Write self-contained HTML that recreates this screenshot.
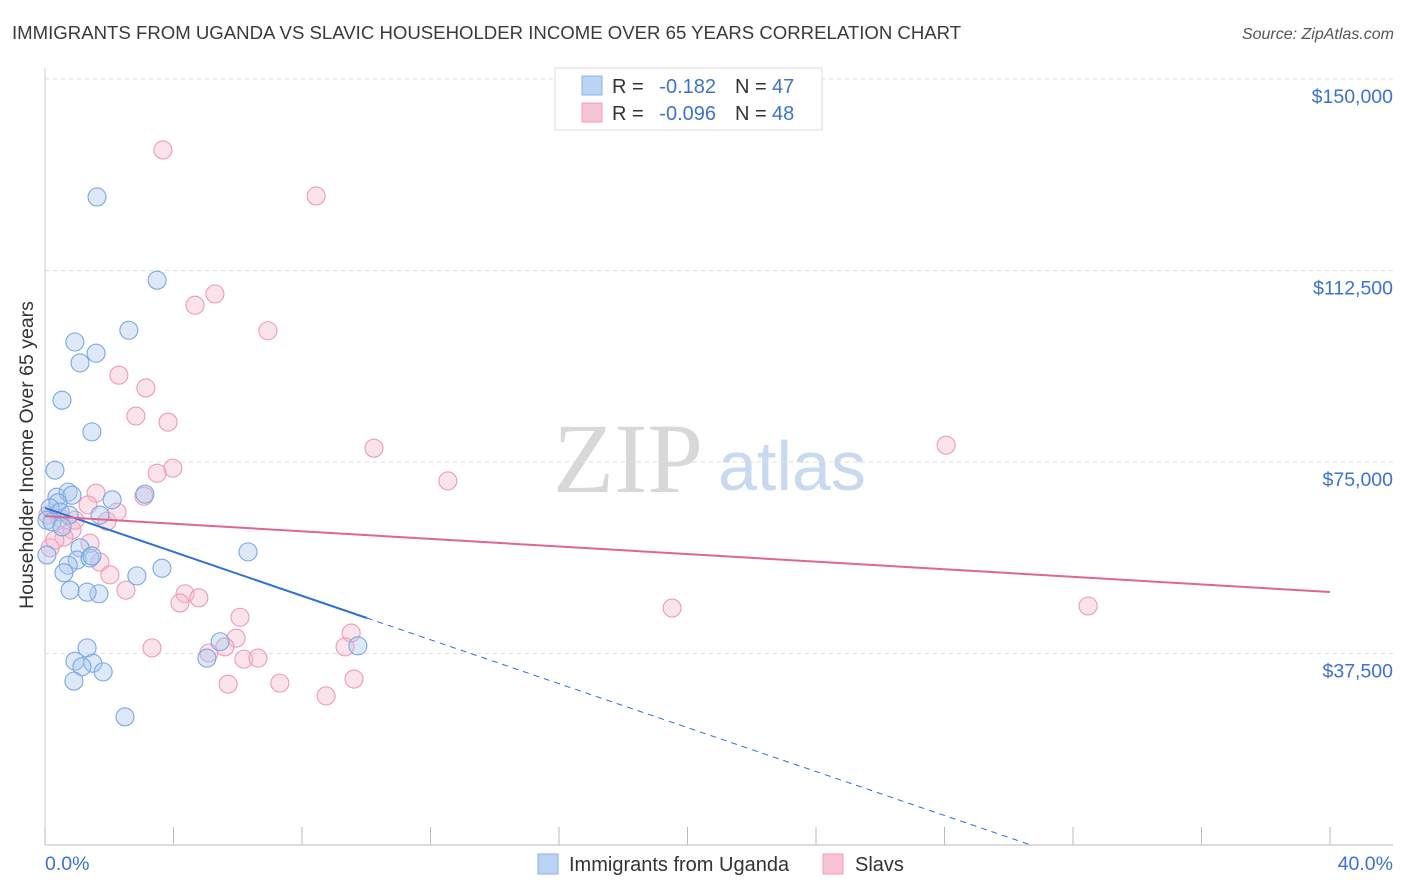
<!DOCTYPE html>
<html><head><meta charset="utf-8"><style>
body{margin:0;background:#fff;font-family:"Liberation Sans",sans-serif;}
svg{display:block}
</style></head><body>
<svg id="chart" width="1406" height="892" xmlns="http://www.w3.org/2000/svg">
<text x="12" y="39" font-size="18.6" fill="#3a3a3a">IMMIGRANTS FROM UGANDA VS SLAVIC HOUSEHOLDER INCOME OVER 65 YEARS CORRELATION CHART</text>
<text x="1394" y="39" font-size="16" fill="#555" font-style="italic" text-anchor="end">Source: ZipAtlas.com</text>
<g>
<text x="553" y="492" font-family="Liberation Serif,serif" font-size="100" fill="#d8d8d8">ZIP</text>
<text x="718" y="490" font-size="70" fill="#c9daf0">atlas</text>
</g>
<g id="grid"></g>
<g id="axes"></g>
<g id="marks"></g>
<text x="33" y="455" font-size="19.5" fill="#333" text-anchor="middle" transform="rotate(-90 33 455)">Householder Income Over 65 years</text>
<text x="45" y="870" font-size="19.5" fill="#3d72d0">0.0%</text>
<text x="1393" y="870" font-size="19.5" fill="#3d72d0" text-anchor="end">40.0%</text>
<g>
<rect x="555" y="68" width="267" height="62" fill="#fff" stroke="#ddd"/>
<g>
<rect x="582" y="76" width="20" height="19" fill="#bcd4f4" stroke="#8ab2e6"/>
<text x="612" y="93" font-size="20" fill="#333">R = </text><text x="716" y="93" font-size="20" fill="#3d72d0" text-anchor="end">-0.182</text>
<text x="735" y="93" font-size="20" fill="#333">N = </text><text x="772" y="93" font-size="20" fill="#3d72d0">47</text></g>
<g>
<rect x="582" y="103" width="20" height="19" fill="#f9c5d5" stroke="#eea0ba"/>
<text x="612" y="120" font-size="20" fill="#333">R = </text><text x="716" y="120" font-size="20" fill="#3d72d0" text-anchor="end">-0.096</text>
<text x="735" y="120" font-size="20" fill="#333">N = </text><text x="772" y="120" font-size="20" fill="#3d72d0">48</text></g>
</g>
<g>
<g><rect x="538" y="854" width="20" height="20" fill="#bcd4f4" stroke="#8ab2e6"/>
<text x="569" y="871" font-size="20" fill="#333">Immigrants from Uganda</text></g>
<g><rect x="823" y="854" width="20" height="20" fill="#f9c5d5" stroke="#eea0ba"/>
<text x="855" y="871" font-size="20" fill="#333">Slavs</text></g>
</g>
</svg>
<script>
const yTicks=[37500,75000,112500,150000];
const yTickLabels=["$37,500","$75,000","$112,500","$150,000"];
const xTicks=[0,4,8,12,16,20,24,28,32,36,40];
const ugandaX=[1.62,3.49,2.61,0.93,1.59,1.09,0.53,1.46,0.31,0.37,0.72,0.84,2.09,3.11,0.40,0.16,0.47,0.75,0.06,0.22,1.71,0.53,6.32,1.09,0.06,1.00,1.40,1.46,0.72,0.59,2.86,3.64,0.78,1.68,1.31,5.45,1.31,9.74,0.93,1.49,1.15,1.81,5.04,0.90,2.49];
const ugandaY=[126900,110600,100800,98500,96300,94400,87100,80900,73400,68100,69100,68500,67600,68700,67000,66000,65200,64600,63600,63300,64600,62300,57400,58200,56800,55800,56200,56600,54800,53300,52700,54200,49900,49200,49500,39800,38600,39000,36000,35600,34900,33900,36600,32100,25100];
const slavX=[3.67,8.44,5.29,4.67,6.94,2.30,3.14,2.83,3.83,10.24,28.05,3.98,3.49,12.54,3.08,1.59,1.93,2.24,0.47,0.84,0.59,1.40,1.71,0.16,2.02,2.52,4.36,4.79,4.20,19.52,32.47,6.07,5.95,9.53,3.33,9.34,5.60,5.10,6.19,6.63,5.70,7.31,9.62,8.75,0.93,0.09,1.34,0.31];
const slavY=[136100,127100,107900,105700,100700,92000,89500,84000,82800,77700,78300,73800,72800,71300,68300,68900,63400,65200,64000,61700,60300,59100,55400,58200,52900,49900,49200,48400,47400,46400,46800,44600,40500,41500,38600,38800,38800,37600,36400,36600,31500,31700,32500,29200,63600,64600,66600,59700];
const ugandaTrend=[66000,44450];
const ugandaTrendX=[0,10.02];
const slavTrend=[64400,49540];
const NS="http://www.w3.org/2000/svg";
const X0=45,X1=1330,Y0=845,PPY=191.5/37500;
function xs(v){return X0+(v/40)*(X1-X0);}
function ys(v){return Y0-v*PPY;}
function mk(tag,attrs,parent){const e=document.createElementNS(NS,tag);for(const k in attrs)e.setAttribute(k,attrs[k]);parent.appendChild(e);return e;}
const grid=document.getElementById('grid'),axes=document.getElementById('axes'),marks=document.getElementById('marks');
yTicks.forEach((t,i)=>{
 const l=mk('line',{x1:X0,x2:1393,y1:ys(t),y2:ys(t),stroke:'#ddd','stroke-dasharray':'4,4'},grid);
 
 
 const tx=mk('text',{x:1393,y:ys(t)+24,'font-size':19.5,fill:'#3d72d0','text-anchor':'end'},axes);
 tx.textContent=yTickLabels[i];
 
 
});
const ax=mk('line',{x1:X0,x2:1393,y1:Y0,y2:Y0,stroke:'#bbb'},axes);


const ay=mk('line',{x1:X0,x2:X0,y1:68,y2:Y0,stroke:'#ccc'},axes);


xTicks.forEach(t=>{
 const l=mk('line',{x1:xs(t),x2:xs(t),y1:Y0-18,y2:Y0,stroke:'#bbb'},axes);
 
 
});
function pts(X,Y,fill,stroke,name){
 X.forEach((v,i)=>{
  const c=mk('circle',{cx:xs(v),cy:ys(Y[i]),r:9,fill:fill,'fill-opacity':0.4,stroke:stroke,'stroke-width':1.1},marks);
  
  
 });
}
pts(slavX,slavY,'#f6b9cd','#ec9ab6','slavs-point');
pts(ugandaX,ugandaY,'#a9c8f0','#7aa8e2','uganda-point');
const slope=(ugandaTrend[1]-ugandaTrend[0])/(ugandaTrendX[1]-ugandaTrendX[0]);
const zeroX=-ugandaTrend[0]/slope;
const bl=mk('line',{x1:xs(ugandaTrendX[0]),y1:ys(ugandaTrend[0]),x2:xs(ugandaTrendX[1]),y2:ys(ugandaTrend[1]),stroke:'#2f6fd6','stroke-width':2},marks);


const bd=mk('line',{x1:xs(ugandaTrendX[1]),y1:ys(ugandaTrend[1]),x2:xs(zeroX),y2:ys(0),stroke:'#2f6fd6','stroke-width':1,'stroke-dasharray':'6,5'},marks);


const pl=mk('line',{x1:xs(0),y1:ys(slavTrend[0]),x2:xs(40),y2:ys(slavTrend[1]),stroke:'#e06590','stroke-width':2},marks);


</script>
</body></html>
